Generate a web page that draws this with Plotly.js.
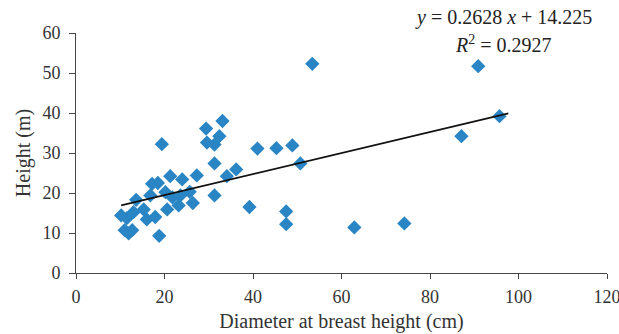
<!DOCTYPE html>
<html>
<head>
<meta charset="utf-8">
<script src="https://cdn.plot.ly/plotly-3.0.1.min.js"></script>
<style>html,body{margin:0;padding:0;background:#fff}#chart{width:619px;height:334px}</style>
</head>
<body>
<div id="chart"></div>
<script>
// Diameter at breast height (cm)
const dbh = [10.2, 11.5, 13.0, 13.6, 15.3, 16.0, 16.8, 17.2, 18.5, 17.9, 18.8, 19.4, 20.2, 20.6, 21.3, 21.8, 23.6, 24.0, 23.2, 25.7,
             26.4, 27.3, 29.4, 29.6, 31.3, 32.4, 33.1, 31.3, 31.3, 34.1, 36.2, 39.2, 41.0, 45.3, 48.9, 50.7, 53.4, 47.5, 47.5, 62.9,
             74.2, 87.1, 90.9, 95.7, 11.0, 12.7, 11.9];
// Height (m)
const height = [14.4, 13.7, 15.2, 18.3, 15.9, 13.4, 19.4, 22.3, 22.5, 14.0, 9.3, 32.2, 20.2, 15.9, 24.2, 18.9, 19.4, 23.4, 16.9, 20.3,
                17.5, 24.4, 36.1, 32.6, 32.1, 34.2, 38.0, 27.4, 19.4, 24.2, 25.9, 16.5, 31.1, 31.2, 31.9, 27.4, 52.3, 15.4, 12.2, 11.4,
                12.4, 34.2, 51.7, 39.2, 10.7, 10.7, 9.9];
const slope = 0.2628;
const intercept = 14.225;
const r2 = 0.2927;
const trendRange = [10.2, 97.7];
const xTicks = [0, 20, 40, 60, 80, 100, 120];
const yTicks = [0, 10, 20, 30, 40, 50, 60];

const trendY = trendRange.map(x => slope * x + intercept);
const font = 'Liberation Serif, DejaVu Serif, serif';

const data = [
  {x: dbh, y: height, type: 'scatter', mode: 'markers',
   marker: {symbol: 'diamond', size: 11, color: '#2a85c5'}, hoverinfo: 'x+y'},
  {x: trendRange, y: trendY, type: 'scatter', mode: 'lines',
   line: {color: '#111', width: 1.6}, hoverinfo: 'skip'}
];

const layout = {
  width: 619, height: 334,
  margin: {l: 76, r: 12, t: 33, b: 61},
  paper_bgcolor: '#fff', plot_bgcolor: '#fff',
  showlegend: false,
  font: {family: font, color: '#333', size: 17},
  xaxis: {
    range: [0, 120], tickvals: xTicks, ticktext: xTicks.map(String),
    showgrid: false, zeroline: false, showline: true, linecolor: '#444', linewidth: 1,
    ticks: 'outside', ticklen: 5, tickcolor: '#444', ticklabelstandoff: 2,
    ticklabeloverflow: 'allow',
    tickfont: {family: font, size: 18, color: '#333'},
    title: {text: 'Diameter at breast height (cm)', font: {family: font, size: 20, color: '#333'}, standoff: 8}
  },
  yaxis: {
    range: [0, 60], tickvals: yTicks, ticktext: yTicks.map(String),
    showgrid: false, zeroline: false, showline: true, linecolor: '#444', linewidth: 1,
    ticks: 'outside', ticklen: 6, tickcolor: '#444', ticklabelstandoff: 5,
    tickfont: {family: font, size: 18, color: '#333'},
    title: {text: 'Height (m)', font: {family: font, size: 20, color: '#333'}, standoff: 6}
  },
  annotations: [
    {xref: 'paper', yref: 'paper', x: 0.806, y: 1.063, xanchor: 'center', yanchor: 'middle', showarrow: false,
     text: '<i>y</i> = ' + slope + ' <i>x</i> + ' + intercept, font: {family: font, size: 20, color: '#222'}},
    {xref: 'paper', yref: 'paper', x: 0.806, y: 0.955, xanchor: 'center', yanchor: 'middle', showarrow: false,
     text: '<i>R</i><sup>2</sup> = ' + r2, font: {family: font, size: 20, color: '#222'}}
  ]
};

Plotly.newPlot('chart', data, layout, {staticPlot: true, displayModeBar: false});
</script>
</body>
</html>
